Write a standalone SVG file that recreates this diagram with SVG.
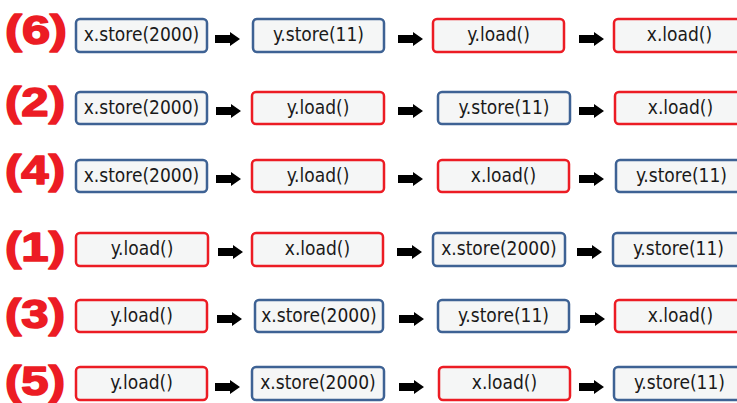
<svg xmlns="http://www.w3.org/2000/svg" xmlns:xlink="http://www.w3.org/1999/xlink" width="737" height="403" viewBox="0 0 737 403">
<style>
.bx rect{fill:#f5f6f6;stroke-width:2.5}
.st rect{stroke:#3e6294}
.ld rect{stroke:#ec1c24}
.bx text{font-family:"DejaVu Sans Condensed","DejaVu Sans",sans-serif;font-size:19px;fill:#1a1a1a;text-anchor:middle}
.lbl{font-family:"Liberation Sans",Arial,sans-serif;font-weight:bold;font-size:41px;fill:#ec1c24;stroke:#ec1c24;stroke-width:1.6;stroke-linejoin:round}
.ar{fill:#000}
</style>
<defs>
<path id="arw" d="M0,-4 H15 V-7 L25,0 L15,7 V4 H0 Z"/>
</defs>
<rect width="737" height="403" fill="#fff"/>
<g id="labels">
<text class="lbl" x="5" y="44" textLength="62" lengthAdjust="spacingAndGlyphs">(6)</text>
<text class="lbl" x="5" y="116" textLength="60" lengthAdjust="spacingAndGlyphs">(2)</text>
<text class="lbl" x="5" y="184" textLength="60" lengthAdjust="spacingAndGlyphs">(4)</text>
<text class="lbl" x="5" y="261" textLength="60" lengthAdjust="spacingAndGlyphs">(1)</text>
<text class="lbl" x="5" y="328" textLength="60" lengthAdjust="spacingAndGlyphs">(3)</text>
<text class="lbl" x="5" y="395" textLength="60" lengthAdjust="spacingAndGlyphs">(5)</text>
</g>
<g id="connectors" class="ar">
<use xlink:href="#arw" x="215" y="39"/>
<use xlink:href="#arw" x="398" y="39"/>
<use xlink:href="#arw" x="579" y="39"/>
<use xlink:href="#arw" x="216" y="111"/>
<use xlink:href="#arw" x="398" y="111"/>
<use xlink:href="#arw" x="579" y="111"/>
<use xlink:href="#arw" x="216" y="179"/>
<use xlink:href="#arw" x="398" y="179"/>
<use xlink:href="#arw" x="579" y="179"/>
<use xlink:href="#arw" x="218" y="252"/>
<use xlink:href="#arw" x="397" y="252"/>
<use xlink:href="#arw" x="577" y="252"/>
<use xlink:href="#arw" x="217" y="319"/>
<use xlink:href="#arw" x="399" y="319"/>
<use xlink:href="#arw" x="580" y="319"/>
<use xlink:href="#arw" x="215" y="387"/>
<use xlink:href="#arw" x="399" y="387"/>
<use xlink:href="#arw" x="579" y="387"/>
</g>
<!-- row (6) -->
<g id="r6a" class="bx st"><rect x="76" y="19" width="131" height="33" rx="4"/><text x="141.5" y="41">x.store(2000)</text></g>
<g id="r6b" class="bx st"><rect x="253" y="19" width="131" height="33" rx="4"/><text x="318.5" y="41">y.store(11)</text></g>
<g id="r6c" class="bx ld"><rect x="433" y="19" width="131" height="33" rx="4"/><text x="498.5" y="41">y.load()</text></g>
<g id="r6d" class="bx ld"><rect x="614" y="19" width="131" height="33" rx="4"/><text x="679.5" y="41">x.load()</text></g>
<!-- row (2) -->
<g id="r2a" class="bx st"><rect x="76" y="92" width="131" height="32" rx="4"/><text x="141.5" y="114">x.store(2000)</text></g>
<g id="r2b" class="bx ld"><rect x="252" y="92" width="132" height="32" rx="4"/><text x="318" y="114">y.load()</text></g>
<g id="r2c" class="bx st"><rect x="438" y="92" width="132" height="32" rx="4"/><text x="504" y="114">y.store(11)</text></g>
<g id="r2d" class="bx ld"><rect x="615" y="92" width="131" height="32" rx="4"/><text x="680.5" y="114">x.load()</text></g>
<!-- row (4) -->
<g id="r4a" class="bx st"><rect x="76" y="160" width="131" height="32" rx="4"/><text x="141.5" y="182">x.store(2000)</text></g>
<g id="r4b" class="bx ld"><rect x="252" y="160" width="132" height="32" rx="4"/><text x="318" y="182">y.load()</text></g>
<g id="r4c" class="bx ld"><rect x="438" y="160" width="131" height="32" rx="4"/><text x="503.5" y="182">x.load()</text></g>
<g id="r4d" class="bx st"><rect x="616" y="160" width="131" height="32" rx="4"/><text x="681.5" y="182">y.store(11)</text></g>
<!-- row (1) -->
<g id="r1a" class="bx ld"><rect x="76" y="233" width="132" height="33" rx="4"/><text x="142" y="255">y.load()</text></g>
<g id="r1b" class="bx ld"><rect x="252" y="233" width="131" height="33" rx="4"/><text x="317.5" y="255">x.load()</text></g>
<g id="r1c" class="bx st"><rect x="433" y="233" width="132" height="33" rx="4"/><text x="499" y="255">x.store(2000)</text></g>
<g id="r1d" class="bx st"><rect x="613" y="233" width="131" height="33" rx="4"/><text x="678.5" y="255">y.store(11)</text></g>
<!-- row (3) -->
<g id="r3a" class="bx ld"><rect x="76" y="300" width="131" height="32" rx="4"/><text x="141.5" y="322">y.load()</text></g>
<g id="r3b" class="bx st"><rect x="255" y="300" width="128" height="32" rx="4"/><text x="319" y="322">x.store(2000)</text></g>
<g id="r3c" class="bx st"><rect x="438" y="300" width="131" height="32" rx="4"/><text x="503.5" y="322">y.store(11)</text></g>
<g id="r3d" class="bx ld"><rect x="615" y="300" width="131" height="32" rx="4"/><text x="680.5" y="322">x.load()</text></g>
<!-- row (5) -->
<g id="r5a" class="bx ld"><rect x="76" y="367" width="131" height="33" rx="4"/><text x="141.5" y="389">y.load()</text></g>
<g id="r5b" class="bx st"><rect x="252" y="367" width="132" height="33" rx="4"/><text x="318" y="389">x.store(2000)</text></g>
<g id="r5c" class="bx ld"><rect x="439" y="367" width="131" height="33" rx="4"/><text x="504.5" y="389">x.load()</text></g>
<g id="r5d" class="bx st"><rect x="614" y="367" width="131" height="33" rx="4"/><text x="679.5" y="389">y.store(11)</text></g>
</svg>
